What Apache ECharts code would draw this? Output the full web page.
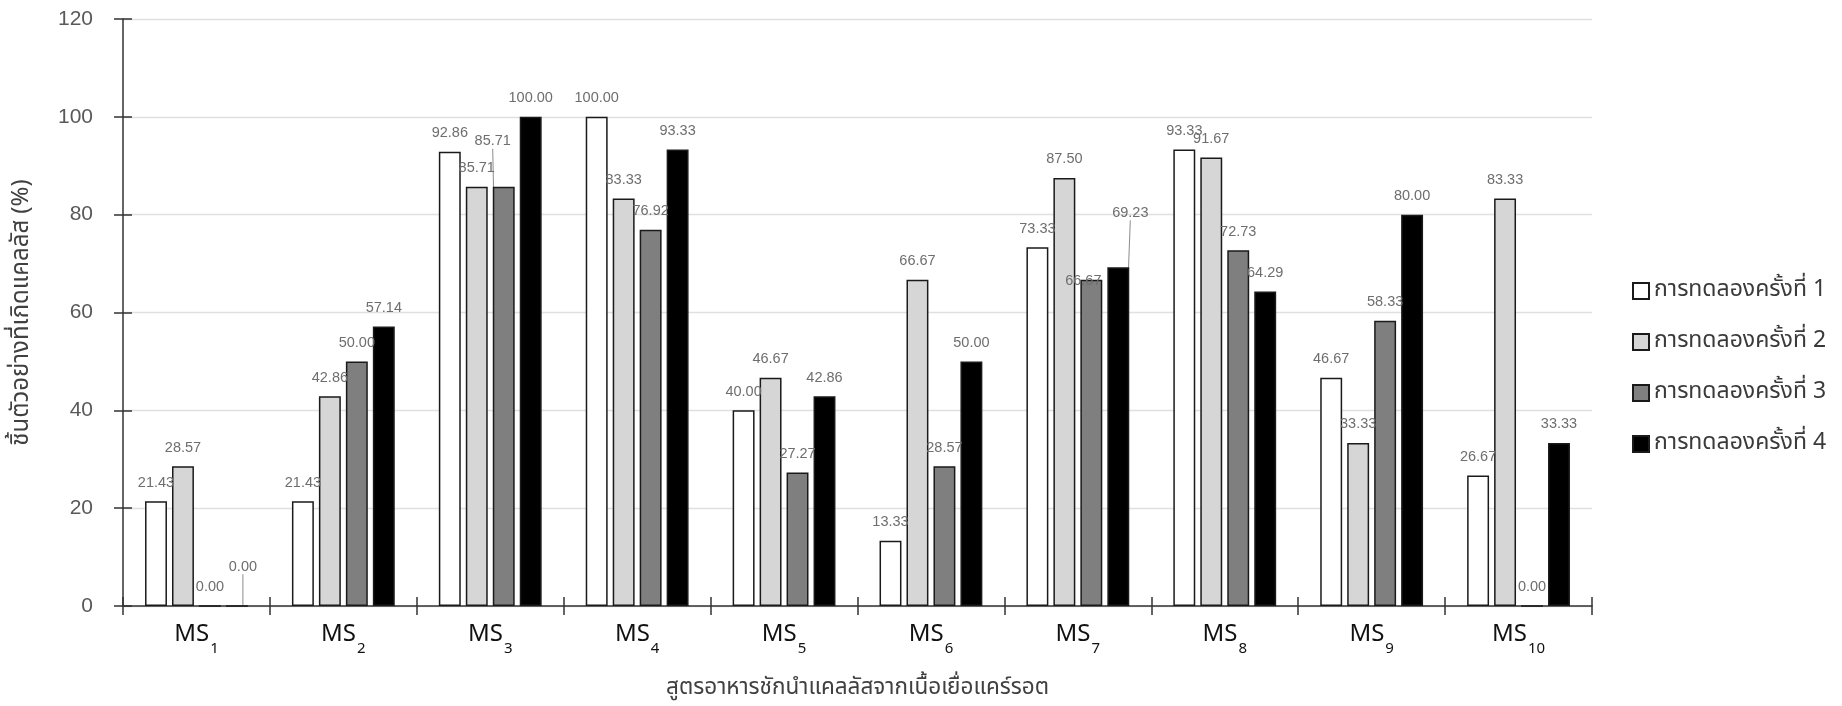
<!DOCTYPE html>
<html>
<head>
<meta charset="utf-8">
<script src="https://cdn.jsdelivr.net/npm/echarts@6/dist/echarts.min.js"></script>
<style>
html,body{margin:0;padding:0;background:#fff;}
#chart{width:1842px;height:706px;}
</style>
</head>
<body>
<div id="chart"></div>
<script>
const categories = ['MS1','MS2','MS3','MS4','MS5','MS6','MS7','MS8','MS9','MS10'];
const seriesNames = ['การทดลองครั้งที่ 1','การทดลองครั้งที่ 2','การทดลองครั้งที่ 3','การทดลองครั้งที่ 4'];
const trial1 = [21.43, 21.43, 92.86, 100.00, 40.00, 13.33, 73.33, 93.33, 46.67, 26.67];
const trial2 = [28.57, 42.86, 85.71, 83.33, 46.67, 66.67, 87.50, 91.67, 33.33, 83.33];
const trial3 = [0.00, 50.00, 85.71, 76.92, 27.27, 28.57, 66.67, 72.73, 58.33, 0.00];
const trial4 = [0.00, 57.14, 100.00, 93.33, 42.86, 50.00, 69.23, 64.29, 80.00, 33.33];
const yTicks = [0, 20, 40, 60, 80, 100, 120];
const yAxisName = 'ชิ้นตัวอย่างที่เกิดแคลลัส (%)';
const xAxisName = 'สูตรอาหารชักนำแคลลัสจากเนื้อเยื่อแคร์รอต';

// label nudges (styling only) for labels that Excel moved to avoid overlaps
const labelNudges = [
  {s: 3, c: 0, dx: 6, dy: -20},
  {s: 2, c: 2, dx: -11, dy: -27},
  {s: 3, c: 6, dx: 12, dy: -36},
  {s: 2, c: 6, dx: -8, dy: 20}
];

const thaiFont = '"Noto Sans Thai","Noto Sans","DejaVu Sans",sans-serif';
const numFont = '"Liberation Sans", Arial, sans-serif';
const fills = ['#ffffff', '#d6d6d6', '#7f7f7f', '#000000'];
const allData = [trial1, trial2, trial3, trial4];

function findNudge(s, c) {
  return labelNudges.find(n => n.s === s && n.c === c);
}

const chart = echarts.init(document.getElementById('chart'), null, {renderer: 'canvas'});

const series = allData.map((d, i) => ({
  name: seriesNames[i],
  type: 'bar',
  xAxisIndex: 0,
  yAxisIndex: 0,
  data: d.map((v, j) => findNudge(i, j) ? {value: v, labelLine: {show: true, lineStyle: {color: '#8c8c8c', width: 1}}} : v),
  barGap: '23%',
  barCategoryGap: '30%',
  itemStyle: {color: fills[i], borderColor: '#1a1a1a', borderWidth: 1.5},
  label: {
    show: true,
    position: 'top',
    distance: 11,
    color: '#6e6e6e',
    fontSize: 14.5,
    fontFamily: numFont,
    formatter: p => Number(p.value).toFixed(2)
  },
  labelLayout: p => {
    const n = findNudge(p.seriesIndex, p.dataIndex);
    return n ? {dx: n.dx, dy: n.dy} : {};
  }
}));

const catLabel = {
  margin: 16,
  formatter: v => v.replace(/^MS(\d+)$/, '{m|MS}{s|$1}'),
  rich: {
    m: {fontSize: 24, color: '#111', fontFamily: '"Noto Sans", sans-serif', lineHeight: 26, verticalAlign: 'top'},
    s: {fontSize: 15, color: '#111', fontFamily: '"Noto Sans", sans-serif', lineHeight: 16, padding: [19, 0, 0, 1], verticalAlign: 'top'}
  }
};

chart.setOption({
  animation: false,
  backgroundColor: '#fff',
  grid: {left: 123, right: 250, top: 19, bottom: 99, containLabel: false},
  legend: {
    orient: 'vertical',
    left: 1627,
    top: 273,
    itemWidth: 16,
    itemHeight: 16,
    itemGap: 25,
    icon: 'rect',
    textStyle: {fontSize: 23, lineHeight: 26, color: '#3a3a3a', fontFamily: thaiFont},
    data: seriesNames
  },
  xAxis: [{
    type: 'category',
    data: categories,
    name: xAxisName,
    nameLocation: 'middle',
    nameGap: 72,
    nameTextStyle: {fontSize: 22.5, color: '#404040', fontFamily: thaiFont},
    axisLine: {lineStyle: {color: '#333', width: 1.5}},
    axisTick: {show: true, length: 9, lineStyle: {color: '#333', width: 1.5}},
    axisLabel: catLabel,
    splitLine: {show: false}
  }, {
    type: 'category',
    data: categories,
    position: 'bottom',
    axisLine: {show: false},
    axisTick: {show: true, inside: true, length: 9, lineStyle: {color: '#333', width: 1.5}},
    axisLabel: {show: false},
    splitLine: {show: false}
  }],
  yAxis: [{
    type: 'value',
    min: yTicks[0],
    max: yTicks[yTicks.length - 1],
    interval: yTicks[1] - yTicks[0],
    name: yAxisName,
    nameLocation: 'middle',
    nameRotate: 90,
    nameGap: 88,
    nameTextStyle: {fontSize: 24, color: '#404040', fontFamily: thaiFont},
    axisLine: {show: true, lineStyle: {color: '#333', width: 1.5}},
    axisTick: {show: true, length: 9, lineStyle: {color: '#333', width: 1.5}},
    axisLabel: {fontSize: 21, color: '#595959', margin: 30, fontFamily: numFont},
    splitLine: {show: true, lineStyle: {color: '#e0e0e0', width: 1.3}}
  }, {
    type: 'value',
    min: yTicks[0],
    max: yTicks[yTicks.length - 1],
    interval: yTicks[1] - yTicks[0],
    position: 'left',
    axisLine: {show: false},
    axisTick: {show: true, inside: true, length: 9, lineStyle: {color: '#333', width: 1.5}},
    axisLabel: {show: false},
    splitLine: {show: false}
  }],
  series: series
});
</script>
</body>
</html>
